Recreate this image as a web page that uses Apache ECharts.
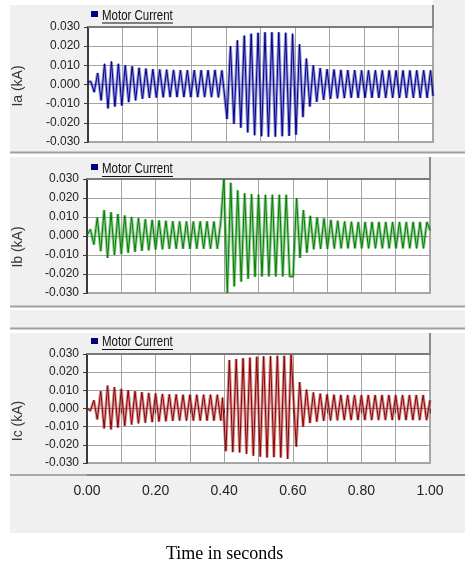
<!DOCTYPE html>
<html>
<head>
<meta charset="utf-8">
<title>Motor Current</title>
<script src="https://cdn.jsdelivr.net/npm/echarts@6/dist/echarts.min.js"></script>
<style>
  html, body { margin: 0; padding: 0; background: #fff; }
  #chart { width: 465px; height: 562px; }
</style>
</head>
<body>
<div id="chart"></div>
<script>
// peaks / troughs, one value per half cycle (0.01 s unless a step is given)
const legendName = 'Motor Current';
const panelNames = ['Ia (kA)', 'Ib (kA)', 'Ic (kA)'];
const panelColors = ['#000090', '#008000', '#900000'];

const iaPre = [0.0017, -0.0040, 0.0060, -0.0083, 0.0108, -0.0125, 0.0120, -0.0115, 0.0108, -0.0110,
  0.0100, -0.0092, 0.0095, -0.0083, 0.0087, -0.0075, 0.0083, -0.0070, 0.0080, -0.0068,
  0.0078, -0.0067, 0.0077, -0.0066, 0.0076, -0.0066, 0.0075, -0.0066, 0.0075, -0.0066,
  0.0075, -0.0066, 0.0075, -0.0066, 0.0075, -0.0066, 0.0076, -0.0067, 0.0074];
const iaFault = [-0.0180, 0.0200, -0.0205, 0.0230, -0.0225, 0.0255, -0.0250, 0.0265, -0.0265, 0.0270,
  -0.0270, 0.0272, -0.0272, 0.0272, -0.0272, 0.0272, -0.0270, 0.0270, -0.0268, 0.0265,
  -0.0262];
const iaPost = [0.0210, -0.0170, 0.0135, -0.0115, 0.0100, -0.0090, 0.0085, -0.0080, 0.0080, -0.0075,
  0.0078, -0.0072, 0.0076, -0.0071, 0.0075, -0.0070, 0.0075, -0.0070, 0.0074, -0.0070,
  0.0074, -0.0070, 0.0074, -0.0070, 0.0074, -0.0070, 0.0074, -0.0070, 0.0074, -0.0070,
  0.0074, -0.0070, 0.0074, -0.0070, 0.0074, -0.0070, 0.0074, -0.0070, 0.0074];

const ibPre = [0.0035, -0.0045, 0.0097, -0.0080, 0.0136, -0.0115, 0.0125, -0.0100, 0.0115, -0.0095,
  0.0108, -0.0088, 0.0100, -0.0083, 0.0094, -0.0078, 0.0088, -0.0075, 0.0085, -0.0072,
  0.0082, -0.0070, 0.0080, -0.0068, 0.0078, -0.0067, 0.0077, -0.0067, 0.0077, -0.0067,
  0.0077, -0.0067, 0.0077, -0.0067, 0.0077, -0.0067, 0.0076, -0.0067, 0.0075];
const ibFault = [0.0300, -0.0300, 0.0280, -0.0265, 0.0240, -0.0240, 0.0225, -0.0225, 0.0220, -0.0215,
  0.0218, -0.0213, 0.0217, -0.0213, 0.0217, -0.0213, 0.0217, -0.0213, 0.0217, -0.0213,
  -0.0213];
const ibPost = [0.0200, -0.0115, 0.0136, -0.0088, 0.0106, -0.0070, 0.0097, -0.0068, 0.0092, -0.0068,
  0.0085, -0.0066, 0.0080, -0.0065, 0.0077, -0.0065, 0.0075, -0.0065, 0.0074, -0.0065,
  0.0074, -0.0065, 0.0074, -0.0065, 0.0074, -0.0065, 0.0074, -0.0065, 0.0074, -0.0065,
  0.0074, -0.0065, 0.0074, -0.0065, 0.0074, -0.0065, 0.0074, -0.0065, 0.0074];

const icPre = [-0.0012, 0.0045, -0.0060, 0.0095, -0.0110, 0.0126, -0.0115, 0.0118, -0.0105, 0.0108,
  -0.0095, 0.0100, -0.0088, 0.0095, -0.0082, 0.0090, -0.0078, 0.0086, -0.0075, 0.0083,
  -0.0072, 0.0080, -0.0070, 0.0078, -0.0068, 0.0077, -0.0067, 0.0076, -0.0067, 0.0076,
  -0.0067, 0.0076, -0.0067, 0.0076, -0.0067, 0.0076, -0.0067, 0.0076, -0.0067];
const icFault = [0.0060, -0.0235, 0.0267, -0.0240, 0.0272, -0.0242, 0.0277, -0.0250, 0.0280, -0.0260,
  0.0285, -0.0265, 0.0287, -0.0270, 0.0288, -0.0268, 0.0290, -0.0270, 0.0290, -0.0278,
  0.0295];
const icPost = [-0.0210, 0.0145, -0.0100, 0.0104, -0.0080, 0.0088, -0.0072, 0.0082, -0.0068, 0.0078,
  -0.0066, 0.0076, -0.0065, 0.0075, -0.0064, 0.0074, -0.0064, 0.0074, -0.0064, 0.0074,
  -0.0064, 0.0074, -0.0064, 0.0074, -0.0064, 0.0074, -0.0064, 0.0074, -0.0064, 0.0074,
  -0.0064, 0.0074, -0.0064, 0.0074, -0.0064, 0.0074, -0.0064, 0.0074, -0.0064];

// segment start times (s) and half-cycle steps
const iaStarts = [0, 0.008, 0.403, 0.613, 1.0];
const ibStarts = [0, 0.010, 0.399, 0.611, 1.0];
const icStarts = [0, 0.010, 0.395, 0.610, 1.0];
const ibFaultStep = 0.0101;

function wave(starts, parts, steps) {
  const pts = [];
  parts.forEach((vals, s) => {
    const step = (steps && steps[s]) || 0.01;
    vals.forEach((v, i) => pts.push([+(starts[s] + i * step).toFixed(4), v]));
  });
  return pts;
}

const waves = [
  wave(iaStarts, [[0.0010], iaPre, iaFault, iaPost, [-0.0060]]),
  wave(ibStarts, [[0.0005], ibPre, ibFault, ibPost, [0.0030]], [0, 0, ibFaultStep, 0, 0]),
  wave(icStarts, [[0.0000], icPre, icFault, icPost, [0.0045]])
];

const grids = [
  { left: 88, top: 27, width: 345, height: 115 },
  { left: 87, top: 179, width: 343, height: 114 },
  { left: 87, top: 354, width: 343, height: 109 }
];

const sans = "'Liberation Sans', Arial, sans-serif";

const chart = echarts.init(document.getElementById('chart'));

const xAxes = [];
const yAxes = [];
const series = [];
const legends = [];
const legendTops = [11, 164, 338];
const legendTextY = [16.5, 169, 342.5];

grids.forEach((g, i) => {
  xAxes.push({
    gridIndex: i, type: 'value', min: 0, max: 1, interval: 0.1,
    offset: i === 2 ? 12 : 0,
    axisLine: { show: false },
    axisTick: { show: i === 2, length: 5, lineStyle: { color: '#444' } },
    axisLabel: {
      show: i === 2, margin: 9, fontSize: 14, color: '#222', fontFamily: sans,
      formatter: v => (Math.round(v * 10) % 2 === 0 ? v.toFixed(2) : '')
    },
    splitLine: { show: true, lineStyle: { color: '#a4a4a4', width: 1 } }
  });
  yAxes.push({
    gridIndex: i, type: 'value', min: -0.03, max: 0.03, interval: 0.01,
    axisLine: { show: true, onZero: false, lineStyle: { color: '#3a3a3a', width: 2 } },
    axisTick: { show: true, length: 4, lineStyle: { color: '#3a3a3a' } },
    axisLabel: {
      margin: 8, fontSize: 12, color: '#222', fontFamily: sans,
      formatter: v => (Math.abs(v) < 1e-9 ? '0.000' : v.toFixed(3))
    },
    splitLine: { show: true, lineStyle: { color: '#a4a4a4', width: 1 } }
  });
  // lighter band under the trace, then the trace itself
  series.push({
    name: panelNames[i] + ' band', type: 'line', xAxisIndex: i, yAxisIndex: i,
    data: waves[i], symbol: 'none', silent: true, animation: false, z: 2,
    lineStyle: { color: panelColors[i], width: 3, opacity: 0.4 }
  });
  series.push({
    name: legendName, type: 'line', xAxisIndex: i, yAxisIndex: i,
    data: waves[i], symbol: 'none', animation: false, z: 3,
    itemStyle: { color: panelColors[i] },
    lineStyle: { color: panelColors[i], width: 1 }
  });
  // icon only; the label is drawn condensed as a graphic text below
  legends.push({
    data: [legendName], left: 91, top: legendTops[i], padding: 0,
    icon: 'rect', itemWidth: 7, itemHeight: 6, selectedMode: false,
    itemStyle: { color: '#000080' },
    formatter: () => '',
    textStyle: { fontSize: 6 }
  });
});

// dark top edge of each plot
grids.forEach((g, i) => {
  xAxes.push({
    gridIndex: i, type: 'value', min: 0, max: 1, position: 'top',
    axisLine: { show: true, lineStyle: { color: '#7a7a7a', width: 2 } },
    axisTick: { show: false }, axisLabel: { show: false }, splitLine: { show: false }
  });
});

function hline(x1, x2, y, color, w) {
  return { type: 'line', z: 10, shape: { x1: x1, y1: y, x2: x2, y2: y }, style: { stroke: color, lineWidth: w } };
}
function vline(x, y1, y2, color, w) {
  return { type: 'line', z: 10, shape: { x1: x, y1: y1, x2: x, y2: y2 }, style: { stroke: color, lineWidth: w } };
}
function bg(x, y, w, h, color) {
  return { type: 'rect', z: -10, shape: { x: x, y: y, width: w, height: h }, style: { fill: color } };
}
function yname(text, y) {
  return {
    type: 'text', z: 10, x: 18, y: y, rotation: Math.PI / 2,
    style: { text: text, font: '14px ' + sans, fill: '#333', align: 'center', verticalAlign: 'middle' }
  };
}
function legendLabel(y) {
  return {
    type: 'text', z: 10, x: 102, y: y, scaleX: 0.82,
    style: { text: legendName, font: '14px ' + sans, fill: '#111', align: 'left', verticalAlign: 'middle' }
  };
}

const graphics = [
  bg(10, 5, 455, 148, '#f0f0f0'),
  bg(433, 0, 32, 5, '#f0f0f0'),
  bg(10, 157, 455, 149, '#f0f0f0'),
  bg(10, 310, 455, 18, '#f0f0f0'),
  bg(10, 333, 455, 200, '#f0f0f0'),
  hline(10, 465, 152.5, '#a0a0a0', 2),
  hline(10, 465, 306.5, '#a0a0a0', 2),
  hline(10, 465, 328.5, '#a0a0a0', 2),
  hline(10, 87, 475, '#a8a8a8', 2),
  hline(87, 465, 475, '#8a8a8a', 2),
  vline(433, 5, 27, '#8a8a8a', 2),
  vline(430, 157, 179, '#8a8a8a', 2),
  vline(430, 333, 354, '#8a8a8a', 2),
  legendLabel(legendTextY[0]),
  legendLabel(legendTextY[1]),
  legendLabel(legendTextY[2]),
  hline(102, 173, 23, '#111', 1),
  hline(102, 173, 176.5, '#111', 1),
  hline(102, 173, 349.5, '#111', 1),
  yname(panelNames[0], 86),
  yname(panelNames[1], 247),
  yname(panelNames[2], 421)
];

chart.setOption({
  backgroundColor: '#ffffff',
  animation: false,
  title: {
    text: 'Time in seconds', left: 161, top: 540,
    textStyle: { fontFamily: "'Liberation Serif', 'Times New Roman', serif", fontSize: 18, fontWeight: 'normal', color: '#000' }
  },
  legend: legends,
  grid: grids.map(g => Object.assign({
    show: true, backgroundColor: '#ffffff', borderColor: '#a8a8a8', borderWidth: 2, containLabel: false
  }, g)),
  xAxis: xAxes,
  yAxis: yAxes,
  series: series,
  graphic: graphics
});
</script>
</body>
</html>
